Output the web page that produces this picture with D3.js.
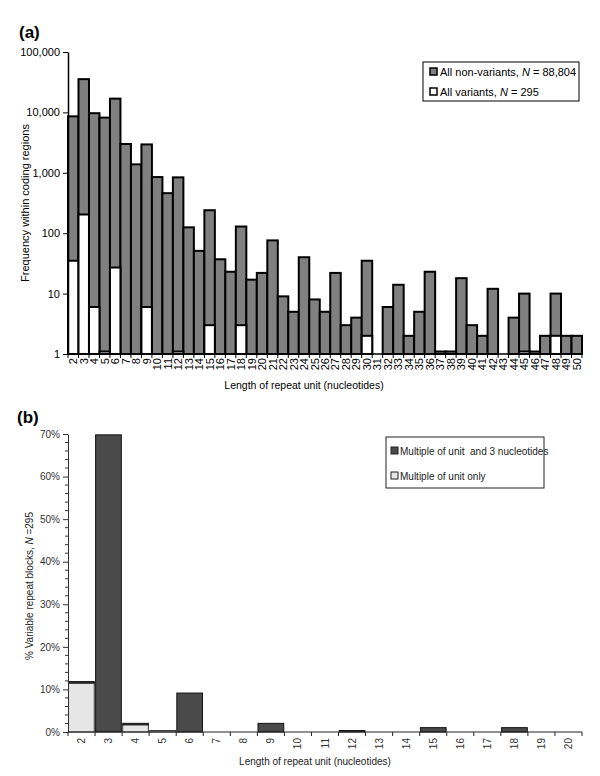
<!DOCTYPE html>
<html><head><meta charset="utf-8">
<script src="https://cdn.jsdelivr.net/npm/d3@7"></script>
<style>
body{margin:0;background:#fff;}
svg{display:block;font-family:"Liberation Sans",Arial,sans-serif;}
</style></head>
<body><svg id="c" width="600" height="776"></svg>
<script>
// ---- Panel (a) data ----
const lengthsA = [2,3,4,5,6,7,8,9,10,11,12,13,14,15,16,17,18,19,20,21,22,23,24,25,26,27,28,29,30,31,32,33,34,35,36,37,38,39,40,41,42,43,44,45,46,47,48,49,50];
const nonVariants = [8600,35500,9700,8200,16900,3000,1380,2950,850,460,840,125,51,240,37,23,129,17,22,76,9,5,40,8,5,22,3,4,35,1,6,14,2,5,23,1.1,1.1,18,3,2,12,1,4,10,1.1,2,10,2,2];
const variantLengths = [2,3,4,5,6,9,12,15,18,30,45,48];
const variants = [35,204,6,1.1,27,6,1.1,3,3,2,1.1,2];
const yTicksA = [1,10,100,1000,10000,100000];

// ---- Panel (b) data ----
const lengthsB = [2,3,4,5,6,7,8,9,10,11,12,13,14,15,16,17,18,19,20];
const multUnitOnly = [11.5,0,1.7,0.34,0,0,0,0,0,0,0,0,0,0,0,0,0,0,0];
const multUnitAnd3 = [0.34,69.8,0.34,0,9.15,0,0,2.03,0,0,0.34,0,0,1.02,0,0,1.02,0,0];
const yTicksB = [0,10,20,30,40,50,60,70];

const svg = d3.select("#c");

// ================= Panel (a) =================
const xA = d3.scaleBand().domain(lengthsA).range([68,582]).padding(0);
const yA = d3.scaleLog().domain([1,100000]).range([354,52]);

svg.append("text").attr("x",19).attr("y",38).attr("font-size",17).attr("font-weight","bold").text("(a)");

const gA = svg.append("g");
gA.selectAll("rect.nv").data(lengthsA).join("rect")
  .attr("x",d=>xA(d)).attr("width",xA.bandwidth())
  .attr("y",(d,i)=>yA(nonVariants[i])).attr("height",(d,i)=>yA(1)-yA(nonVariants[i]))
  .attr("fill","#808080").attr("stroke","#000").attr("stroke-width",2);
gA.selectAll("rect.v").data(variantLengths).join("rect")
  .attr("x",d=>xA(d)).attr("width",xA.bandwidth())
  .attr("y",(d,i)=>yA(variants[i])).attr("height",(d,i)=>yA(1)-yA(variants[i]))
  .attr("fill","#fff").attr("stroke","#000").attr("stroke-width",2);

// y axis
const yAxA = d3.axisLeft(yA).tickValues(yTicksA).tickFormat(d3.format(",")).tickSize(5).tickSizeOuter(0);
const gyA = svg.append("g").attr("transform","translate(68,0)").call(yAxA);
gyA.select(".domain").attr("stroke-width",1.5);
gyA.selectAll("text").attr("font-size",11).attr("fill","#000").attr("font-family","Liberation Sans, Arial, sans-serif");

// x axis
svg.append("line").attr("x1",68).attr("x2",582).attr("y1",354).attr("y2",354).attr("stroke","#000").attr("stroke-width",1.5);
const bndA = lengthsA.map(d=>xA(d)).concat([xA(lengthsA[lengthsA.length-1])+xA.bandwidth()]);
svg.append("g").selectAll("line").data(bndA).join("line")
  .attr("x1",d=>d).attr("x2",d=>d).attr("y1",354).attr("y2",358).attr("stroke","#000");
svg.append("g").selectAll("text").data(lengthsA).join("text")
  .attr("transform",d=>`translate(${xA(d)+xA.bandwidth()/2+4},358) rotate(-90)`)
  .attr("text-anchor","end").attr("font-size",11).text(d=>d);

svg.append("text").attr("x",304).attr("y",389).attr("text-anchor","middle").attr("font-size",10.5).text("Length of repeat unit (nucleotides)");
svg.append("text").attr("transform","translate(29,203) rotate(-90)").attr("text-anchor","middle").attr("font-size",11).text("Frequency within coding regions");

// legend a
const legA = svg.append("g");
legA.append("rect").attr("x",423).attr("y",62).attr("width",156).attr("height",39).attr("fill","#fff").attr("stroke","#000").attr("stroke-width",1);
const legAItems = [{fill:"#808080",pre:"All non-variants, ",post:" = 88,804",y:72},{fill:"#fff",pre:"All variants, ",post:" = 295",y:92}];
legAItems.forEach(it=>{
  legA.append("rect").attr("x",430).attr("y",it.y-4).attr("width",7).attr("height",7).attr("fill",it.fill).attr("stroke","#000").attr("stroke-width",1.5);
  const t = legA.append("text").attr("x",440).attr("y",it.y+4).attr("font-size",11);
  t.append("tspan").text(it.pre);
  t.append("tspan").attr("font-style","italic").text("N");
  t.append("tspan").text(it.post);
});

// ================= Panel (b) =================
const xB = d3.scaleBand().domain(lengthsB).range([68,582]).paddingInner(0.05).paddingOuter(0.02);
const yB = d3.scaleLinear().domain([0,70]).range([732,434]);

svg.append("text").attr("x",17).attr("y",423).attr("font-size",17).attr("font-weight","bold").text("(b)");

const gB = svg.append("g");
gB.selectAll("rect.lo").data(lengthsB).join("rect")
  .filter((d,i)=>multUnitOnly[i]>0)
  .attr("x",d=>xB(d)).attr("width",xB.bandwidth())
  .attr("y",d=>yB(multUnitOnly[lengthsB.indexOf(d)]))
  .attr("height",d=>yB(0)-yB(multUnitOnly[lengthsB.indexOf(d)]))
  .attr("fill","#e6e6e6").attr("stroke","#333").attr("stroke-width",1);
gB.selectAll("rect.dk").data(lengthsB).join("rect")
  .filter((d,i)=>multUnitAnd3[i]>0)
  .attr("x",d=>xB(d)).attr("width",xB.bandwidth())
  .attr("y",d=>{const i=lengthsB.indexOf(d);return yB(multUnitOnly[i]+multUnitAnd3[i]);})
  .attr("height",d=>{const i=lengthsB.indexOf(d);return yB(multUnitOnly[i])-yB(multUnitOnly[i]+multUnitAnd3[i]);})
  .attr("fill","#4a4a4a").attr("stroke","#111").attr("stroke-width",1);

// y axis b
const yAxB = d3.axisLeft(yB).tickValues(yTicksB).tickFormat(d=>d+"%").tickSize(5).tickSizeOuter(0);
const gyB = svg.append("g").attr("transform","translate(68,0)").call(yAxB);
gyB.selectAll("text").attr("font-size",10).attr("fill","#333");
gyB.select(".domain").attr("stroke","#333");
gyB.selectAll(".tick line").attr("stroke","#333");
const minorB = d3.range(0,71,2).filter(v=>v%10!==0);
svg.append("g").selectAll("line").data(minorB).join("line")
  .attr("x1",65).attr("x2",68).attr("y1",d=>yB(d)).attr("y2",d=>yB(d)).attr("stroke","#333");

// x axis b
svg.append("line").attr("x1",68).attr("x2",582).attr("y1",732).attr("y2",732).attr("stroke","#222").attr("stroke-width",1.2);
const stepB = 514/lengthsB.length;
const bndB = lengthsB.map((d,i)=>68+i*stepB).concat([582]);
svg.append("g").selectAll("line").data(bndB).join("line")
  .attr("x1",d=>d).attr("x2",d=>d).attr("y1",732).attr("y2",736).attr("stroke","#222");
svg.append("g").selectAll("text").data(lengthsB).join("text")
  .attr("transform",(d,i)=>`translate(${68+(i+0.5)*stepB+3.5},738) rotate(-90)`)
  .attr("text-anchor","end").attr("font-size",10).attr("fill","#333").text(d=>d);

svg.append("text").attr("x",315).attr("y",765).attr("text-anchor","middle").attr("font-size",10).attr("fill","#222").text("Length of repeat unit (nucleotides)");
const tb = svg.append("text").attr("transform","translate(33,586) rotate(-90)").attr("text-anchor","middle").attr("font-size",10).attr("fill","#222");
tb.append("tspan").text("% Variable repeat blocks, ");
tb.append("tspan").attr("font-style","italic").text("N");
tb.append("tspan").text(" =295");

// legend b
const legB = svg.append("g");
legB.append("rect").attr("x",386).attr("y",437).attr("width",158).attr("height",51).attr("fill","#fff").attr("stroke","#222").attr("stroke-width",1);
const legBItems = [{fill:"#4a4a4a",label:"Multiple of unit  and 3 nucleotides",y:451},{fill:"#e6e6e6",label:"Multiple of unit only",y:476}];
legBItems.forEach(it=>{
  legB.append("rect").attr("x",391).attr("y",it.y-4).attr("width",7).attr("height",7).attr("fill",it.fill).attr("stroke","#222").attr("stroke-width",1);
  legB.append("text").attr("x",400).attr("y",it.y+3.5).attr("font-size",10).attr("fill","#222").style("white-space","pre").text(it.label);
});
</script></body></html>
